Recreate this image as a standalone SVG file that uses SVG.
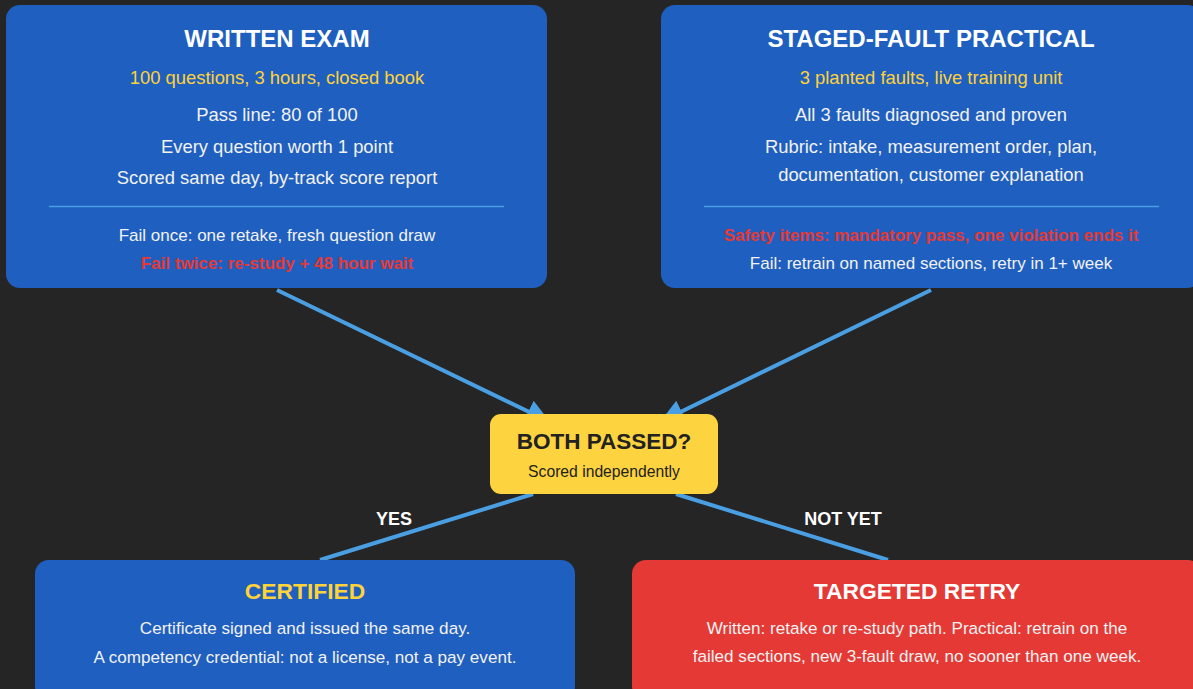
<svg xmlns="http://www.w3.org/2000/svg" width="1193" height="689" viewBox="0 0 1193 689">
<defs>
<style>
text{font-family:"Liberation Sans",Arial,sans-serif;text-anchor:middle}
.box{fill:#1f5fbf}
.title{font-size:24px;font-weight:bold;fill:#ffffff}
.sub{font-size:18.4px;fill:#fdd23a}
.body{font-size:18.4px;fill:#f2f2f2}
.small{font-size:17px;fill:#f2f2f2}
.warn{font-size:17px;font-weight:bold;fill:#e53935}
.div{stroke:#4a9fe3;stroke-width:1.5}
.conn{stroke:#4a9fe3;stroke-width:4;fill:none}
.lbl{font-size:18px;font-weight:bold;fill:#ffffff}
</style>
<marker id="ah" viewBox="0 0 10 10" refX="10" refY="5" markerWidth="6" markerHeight="6" markerUnits="strokeWidth" orient="auto">
<path d="M0,0 L10,5 L0,10 z" fill="#4a9fe3"/>
</marker>
</defs>
<rect width="1193" height="689" fill="#252525"/>
<g id="connectors">
<line class="conn" x1="277" y1="290" x2="550" y2="422" marker-end="url(#ah)"/>
<line class="conn" x1="931" y1="290" x2="660" y2="422" marker-end="url(#ah)"/>
<line class="conn" x1="533" y1="494" x2="320" y2="560"/>
<line class="conn" x1="676" y1="494" x2="888" y2="560"/>
<text class="lbl" x="394" y="525">YES</text>
<text class="lbl" x="843" y="525">NOT YET</text>
</g>
<g id="written">
<rect class="box" x="6" y="5" width="541" height="283" rx="14"/>
<text class="title" x="277" y="47">WRITTEN EXAM</text>
<text class="sub" x="277" y="84">100 questions, 3 hours, closed book</text>
<text class="body" x="277" y="121">Pass line: 80 of 100</text>
<text class="body" x="277" y="153">Every question worth 1 point</text>
<text class="body" x="277" y="184">Scored same day, by-track score report</text>
<line class="div" x1="49" y1="206.5" x2="504" y2="206.5"/>
<text class="small" x="277" y="241">Fail once: one retake, fresh question draw</text>
<text class="warn" x="277" y="269">Fail twice: re-study + 48 hour wait</text>
</g>
<g id="practical">
<rect class="box" x="661" y="5" width="540" height="283" rx="14"/>
<text class="title" x="931" y="47">STAGED-FAULT PRACTICAL</text>
<text class="sub" x="931" y="84">3 planted faults, live training unit</text>
<text class="body" x="931" y="121">All 3 faults diagnosed and proven</text>
<text class="body" x="931" y="153">Rubric: intake, measurement order, plan,</text>
<text class="body" x="931" y="181">documentation, customer explanation</text>
<line class="div" x1="704" y1="206.5" x2="1159" y2="206.5"/>
<text class="warn" x="931" y="241">Safety items: mandatory pass, one violation ends it</text>
<text class="small" x="931" y="269">Fail: retrain on named sections, retry in 1+ week</text>
</g>
<g id="decision">
<rect x="490" y="414" width="228" height="80" rx="11" fill="#fdd33f"/>
<text x="604" y="449" style="font-size:22.5px;font-weight:bold;fill:#222222">BOTH PASSED?</text>
<text x="604" y="477" style="font-size:15.7px;fill:#222222">Scored independently</text>
</g>
<g id="certified">
<rect class="box" x="35" y="560" width="540" height="140" rx="14"/>
<text x="305" y="599" style="font-size:22.8px;font-weight:bold;fill:#fdd23a">CERTIFIED</text>
<text class="small" x="305" y="634" style="font-size:17.1px">Certificate signed and issued the same day.</text>
<text class="small" x="305" y="663" style="font-size:17.1px">A competency credential: not a license, not a pay event.</text>
</g>
<g id="retry">
<rect x="632" y="560" width="570" height="140" rx="14" fill="#e53935"/>
<text x="917" y="599" style="font-size:22.8px;font-weight:bold;fill:#ffffff">TARGETED RETRY</text>
<text class="small" x="917" y="634" style="font-size:17.1px">Written: retake or re-study path. Practical: retrain on the</text>
<text class="small" x="917" y="662" style="font-size:17.1px">failed sections, new 3-fault draw, no sooner than one week.</text>
</g>
</svg>
